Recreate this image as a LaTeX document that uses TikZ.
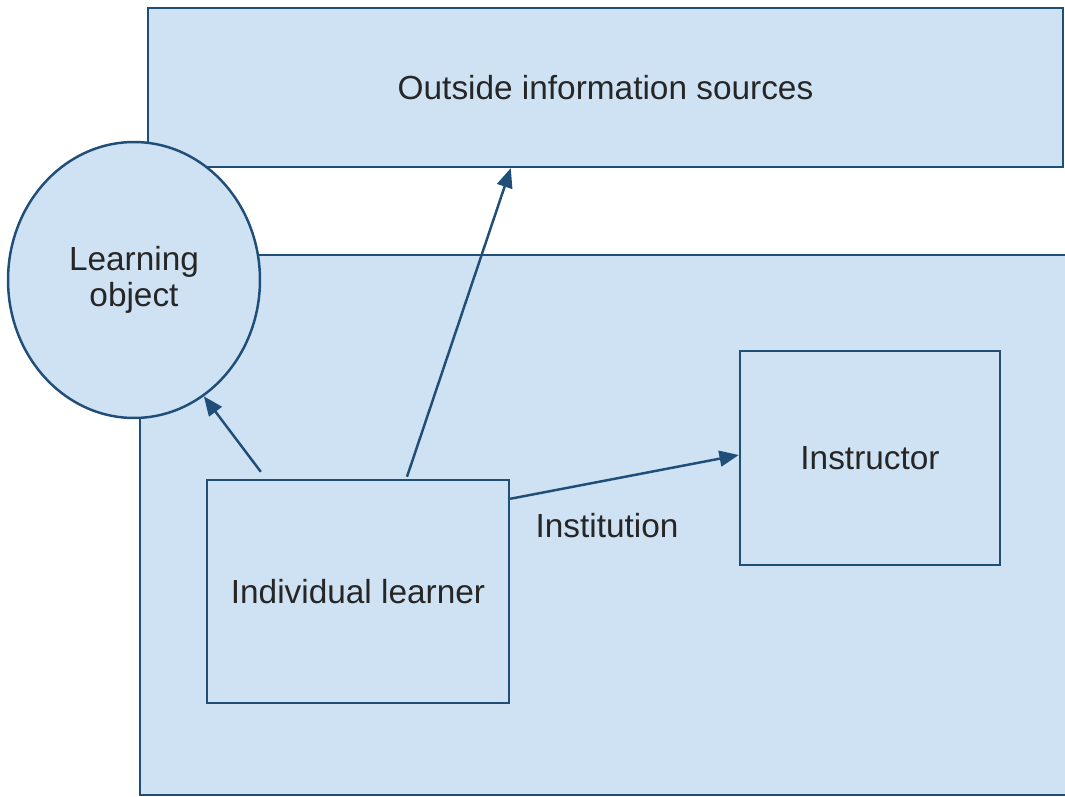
\documentclass[tikz,border=0pt]{standalone}
\usepackage{fontspec}
\setmainfont{Liberation Sans}
\usetikzlibrary{%
    arrows.meta,
    positioning,
    shapes.geometric
}
\definecolor{boxfill}{HTML}{CFE2F3}
\definecolor{boxline}{HTML}{1F4E79}

\begin{document}
\begin{tikzpicture}[x=0.02cm, y=-0.02cm,
    every node/.style={font=\fontsize{19}{20.5}\selectfont, text=black!85},
    region/.style={draw=boxline, fill=boxfill, line width=1.4pt, inner sep=0pt, align=center},
    link/.style={draw=boxline, line width=1.4pt, -{Triangle[length=11pt, width=9pt]}}]
    \useasboundingbox (0,0) rectangle (1065,797);

    \node (sources) at (605.5,87.5) [region, rectangle,
                      minimum width=18.3cm, minimum height=3.18cm] {Outside information sources};
    \node (institution) at (607.5,525) [region, rectangle,
                      minimum width=18.7cm, minimum height=10.8cm] {};
    \node (institutionlabel) at (607,526) {Institution};
    \node (object) at (134,280) [region, ellipse,
                      minimum width=5.04cm, minimum height=5.52cm] {Learning\\object};
    \node (learner) at (358,591.5) [region, rectangle,
                      minimum width=6.04cm, minimum height=4.46cm] {Individual learner};
    \node (instructor) at (870,458) [region, rectangle,
                      minimum width=5.2cm, minimum height=4.28cm] {Instructor};

    \draw[link] ([xshift=1.1cm, yshift=0.14cm]learner.north west) to (object.-59);
    \draw[link] ([xshift=0.98cm, yshift=0.04cm]learner.north) to ([xshift=7.28cm]sources.south west);
    \draw[link] ([yshift=-0.4cm]learner.north east) to ([yshift=0.06cm]instructor.west);
\end{tikzpicture}
\end{document}
